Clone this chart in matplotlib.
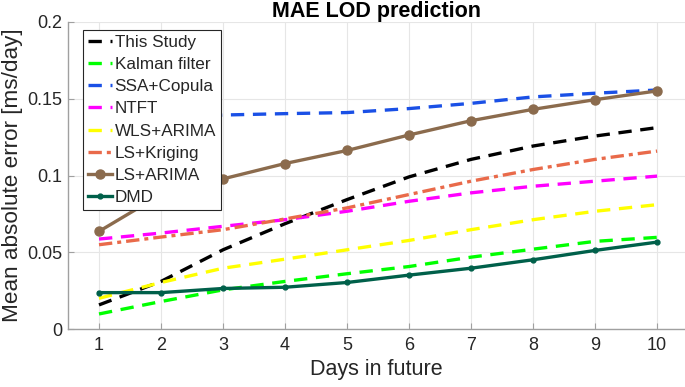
import matplotlib
matplotlib.use("Agg")
import matplotlib.pyplot as plt

plt.rcParams['font.family'] = ['Liberation Sans', 'DejaVu Sans']

days = [1, 2, 3, 4, 5, 6, 7, 8, 9, 10]
this_study = [0.0157, 0.031, 0.0516, 0.0686, 0.0843, 0.0991, 0.1105, 0.1192, 0.1257, 0.1312]
kalman = [0.0098, 0.0179, 0.0255, 0.031, 0.036, 0.0407, 0.0468, 0.052, 0.0571, 0.0597]
ssa_copula = [0.136, 0.138, 0.1394, 0.1403, 0.141, 0.1436, 0.147, 0.1512, 0.1536, 0.1557]
ntft = [0.0586, 0.0625, 0.0669, 0.0712, 0.0767, 0.0832, 0.0887, 0.093, 0.0963, 0.0996]
wls_arima = [0.02, 0.0303, 0.0396, 0.0455, 0.0516, 0.0577, 0.0647, 0.0712, 0.0767, 0.081]
ls_kriging = [0.0549, 0.0599, 0.0647, 0.0717, 0.0789, 0.0876, 0.0963, 0.1039, 0.1105, 0.1159]
ls_arima = [0.0636, 0.0876, 0.0978, 0.1078, 0.1163, 0.1264, 0.1357, 0.1431, 0.1494, 0.1551]
dmd = [0.0237, 0.0237, 0.0264, 0.0272, 0.0303, 0.0351, 0.0396, 0.0451, 0.0512, 0.0566]

fig = plt.figure(figsize=(6.85, 3.87), dpi=100)
ax = fig.add_axes([68/685, (387-329)/387, (685-68)/685, (329-22)/387])

lw = 2.4
dash = (0, (4, 2.6))
ax.plot(days, this_study, color='black', lw=lw, linestyle=dash, label='This Study')
ax.plot(days, kalman, color='#00FF00', lw=lw, linestyle=dash, label='Kalman filter')
ax.plot(days, ssa_copula, color='#1A50E6', lw=lw, linestyle=dash, label='SSA+Copula')
ax.plot(days, ntft, color='#FF00FF', lw=lw, linestyle=dash, label='NTFT')
ax.plot(days, wls_arima, color='#FFFF00', lw=lw, linestyle=dash, label='WLS+ARIMA')
ax.plot(days, ls_kriging, color='#E96A4A', lw=lw, linestyle=(0, (4, 1.5, 1.2, 1.5)), label='LS+Kriging')
ax.plot(days, ls_arima, color='#8B6B4D', lw=lw, marker='o', markersize=6.5, label='LS+ARIMA')
ax.plot(days, dmd, color='#00604A', lw=lw, marker='o', markersize=3.5, label='DMD')

ax.set_xlim(0.5, 10.45)
ax.set_ylim(0, 0.2)
ax.set_xticks(days)
ax.set_xticklabels([str(d) for d in days])
ax.set_yticks([0, 0.05, 0.1, 0.15, 0.2])
ax.set_yticklabels(['0', '0.05', '0.1', '0.15', '0.2'])
ax.grid(True, color='#E6E6E6', lw=0.8)
ax.set_axisbelow(True)
for s in ['top', 'right']:
    ax.spines[s].set_visible(False)
for s in ['left', 'bottom']:
    ax.spines[s].set_color('#A0A0A0')
    ax.spines[s].set_linewidth(1.0)
ax.tick_params(direction='in', colors='#A0A0A0', labelcolor='#262626', labelsize=13, length=4)
ax.tick_params(axis='x', pad=6)
ax.tick_params(axis='y', pad=4)

ax.set_title('MAE LOD prediction', fontsize=15.5, fontweight='bold', pad=3)
ax.set_xlabel('Days in future', fontsize=15.5, color='#262626', labelpad=3)
ax.set_ylabel('Mean absolute error [ms/day]', fontsize=16.2, color='#262626', labelpad=3)

leg = ax.legend(loc='upper left', bbox_to_anchor=(15/617, 0.975), fontsize=12.3, handlelength=1.4,
                handletextpad=0.15, labelspacing=0.42, borderpad=0.3, borderaxespad=0,
                fancybox=False, edgecolor='#262626', framealpha=1)
leg.get_frame().set_linewidth(0.8)
for t in leg.get_texts():
    t.set_color('#262626')

fig.savefig('out.png', dpi=100)
